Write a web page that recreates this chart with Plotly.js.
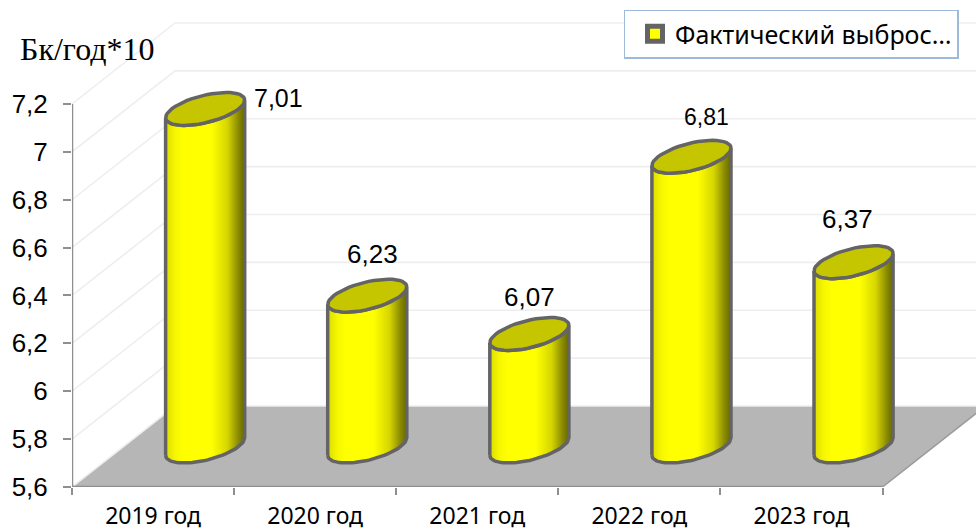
<!DOCTYPE html>
<html><head><meta charset="utf-8">
<script src="https://cdn.plot.ly/plotly-3.0.1.min.js"></script>
<style>html,body{margin:0;padding:0;background:#fff}#c{width:976px;height:532px}</style>
</head><body><div id="c"></div>
<script>
const categories = ["2019 год","2020 год","2021 год","2022 год","2023 год"];
const values = [7.01,6.23,6.07,6.81,6.37];
const yTicks = [5.6,5.8,6,6.2,6.4,6.6,6.8,7,7.2];
const yTickLabels = ["5,6","5,8","6","6,2","6,4","6,6","6,8","7","7,2"];
const seriesName = "Фактический выброс…";
const labelShiftX = [74,6,1,16,-5];
const labelShiftY = [11,42,37,40,43];
const labelSizes = [25,26,26,23,26];

// scale and projection of the pseudo-3D box
const W=976,H=532,mL=72,mB=45,pxX=162.1,pxY=239.4,y0=5.6;
const plotH=H-mB, xMax=(W-mL)/pxX, yMax=y0+plotH/pxY;
const dX=103/pxX, dY=81/pxY;            // depth of the box
const rX=33.5/pxX, eX=21/pxX, eY=16.5/pxY; // cylinder base vectors
const nudge=0.6/pxX;
const t0=Math.atan2(eX,rX);
const arc=(cx,cy,a,b)=>{const xs=[],ys=[];for(let i=0;i<=48;i++){const t=a+(b-a)*i/48;
  xs.push(cx+Math.cos(t)*rX+Math.sin(t)*eX);ys.push(cy+Math.sin(t)*eY);}return{xs,ys};};
const axisCol="#8f8f8f",gridCol="#eeeeee",edge="#646464";
const traces=[];
const line=(x,y,color,width)=>traces.push({x,y,mode:"lines",line:{color,width},showlegend:false,hoverinfo:"skip"});

// floor
traces.push({x:[0,dX,5+dX,5,0],y:[y0,y0+dY,y0+dY,y0,y0],mode:"lines",fill:"toself",fillcolor:"#b6b6b6",
  line:{width:0,color:"#b6b6b6"},showlegend:false,hoverinfo:"skip"});
// walls
yTicks.forEach(v=>line([0,dX,xMax+1],[v,v+dY,v+dY],gridCol,1.6));
line([5,5+dX],[y0,y0+dY],"#9a9a9a",1.5);
line([0,5],[y0,y0],axisCol,2.5);
line([0,0],[y0,yTicks[yTicks.length-1]],axisCol,2.5);

// cylinders
const grad={type:"horizontal",colorscale:[[0,"#dcdc00"],[0.12,"#f6f600"],[0.22,"#ffff00"],[0.58,"#ffff00"],[0.78,"#d6d600"],[0.92,"#8a8a00"],[1,"#666600"]]};
values.forEach((v,i)=>{
  const cx=i+0.5+dX/2+nudge, cb=y0+dY/2, ct=v+dY/2;
  const low=arc(cx,cb,t0+Math.PI,t0+2*Math.PI), up=arc(cx,ct,t0+2*Math.PI,t0+Math.PI);
  traces.push({x:low.xs.concat(up.xs,[low.xs[0]]),y:low.ys.concat(up.ys,[low.ys[0]]),mode:"lines",fill:"toself",
    fillgradient:grad,line:{color:edge,width:3.5},showlegend:false,hoverinfo:"skip"});
  const top=arc(cx,ct,0,2*Math.PI);
  traces.push({x:top.xs,y:top.ys,mode:"lines",fill:"toself",fillcolor:"#c6c600",line:{color:edge,width:3.5},showlegend:false,hoverinfo:"skip"});
});
// legend entry
traces.push({x:[null],y:[null],name:seriesName,mode:"markers",marker:{symbol:"square",size:15,color:"#ffff00",line:{color:edge,width:5}},showlegend:true,hoverinfo:"skip"});

const annotations=values.map((v,i)=>({x:i+0.5+dX/2,y:v+dY/2,xref:"x",yref:"y",text:v.toFixed(2).replace(".",","),showarrow:false,
  xshift:labelShiftX[i],yshift:labelShiftY[i],font:{family:"Liberation Sans",size:labelSizes[i],color:"#000"}}));

const layout={width:W,height:H,margin:{l:mL,r:0,t:0,b:mB,pad:0},paper_bgcolor:"#fff",plot_bgcolor:"rgba(0,0,0,0)",
  title:{text:"Бк/год*10",x:20/W,xanchor:"left",y:1-49/H,yanchor:"middle",font:{family:"Liberation Serif",size:32,color:"#000"}},
  xaxis:{type:"linear",range:[0,xMax],showgrid:false,zeroline:false,showline:false,
    tickmode:"array",tickvals:categories.map((c,i)=>i+0.5),ticktext:categories,ticks:"",ticklabelstandoff:13,
    tickfont:{family:"Noto Sans",size:23,color:"#000"},
    minor:{tickmode:"array",tickvals:[0,1,2,3,4,5],ticks:"outside",ticklen:7,tickwidth:2,tickcolor:axisCol,showgrid:false}},
  yaxis:{range:[y0,yMax],showgrid:false,zeroline:false,showline:false,tickmode:"array",tickvals:yTicks,ticktext:yTickLabels,
    ticks:"outside",ticklen:8,tickwidth:2,tickcolor:axisCol,ticklabelstandoff:10,
    tickfont:{family:"Liberation Sans",size:26,color:"#000"}},
  showlegend:true,
  legend:{x:(623.5-mL)/(W-mL),xanchor:"left",y:1-9.5/plotH,yanchor:"top",bgcolor:"#fff",bordercolor:"#9dbbd8",borderwidth:1.5,
    entrywidth:282,entrywidthmode:"pixels",indentation:10,font:{family:"Noto Sans",size:25,color:"#000"},itemclick:false,itemdoubleclick:false},
  annotations};
Plotly.newPlot("c",traces,layout,{displayModeBar:false,staticPlot:true});
</script></body></html>
